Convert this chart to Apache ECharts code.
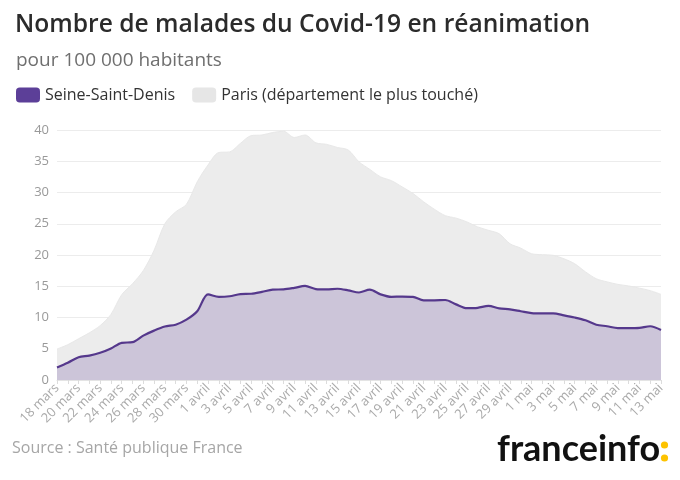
<!DOCTYPE html>
<html>
<head>
<meta charset="utf-8">
<script src="https://cdn.jsdelivr.net/npm/echarts@6/dist/echarts.min.js"></script>
<style>
html,body{margin:0;padding:0;background:#fff;}
#chart{width:680px;height:480px;}
</style>
</head>
<body>
<div id="chart"></div>
<script>
var categories = [
  "18 mars","19 mars","20 mars","21 mars","22 mars","23 mars","24 mars","25 mars","26 mars","27 mars","28 mars","29 mars","30 mars","31 mars",
  "1 avril","2 avril","3 avril","4 avril","5 avril","6 avril","7 avril","8 avril","9 avril","10 avril","11 avril","12 avril","13 avril","14 avril","15 avril","16 avril","17 avril","18 avril","19 avril","20 avril","21 avril","22 avril","23 avril","24 avril","25 avril","26 avril","27 avril","28 avril","29 avril","30 avril",
  "1 mai","2 mai","3 mai","4 mai","5 mai","6 mai","7 mai","8 mai","9 mai","10 mai","11 mai","12 mai","13 mai"
];
var seineSaintDenis = [
  2.0, 2.75, 3.65, 3.9, 4.35, 5.05, 5.95, 6.05, 7.1, 7.9, 8.55, 8.85, 9.65, 11.0,
  13.7, 13.3, 13.4, 13.75, 13.8, 14.1, 14.45, 14.5, 14.75, 15.05, 14.55, 14.5, 14.6, 14.35, 14.0, 14.45,
  13.7, 13.3, 13.35, 13.3, 12.75, 12.75, 12.8, 12.1, 11.5, 11.55, 11.85, 11.45, 11.3, 11.0,
  10.7, 10.65, 10.65, 10.35, 10.0, 9.55, 8.85, 8.6, 8.3, 8.3, 8.35, 8.6, 8.0
];
var paris = [
  4.95, 5.65, 6.6, 7.55, 8.7, 10.5, 13.65, 15.4, 17.5, 20.75, 25.0, 26.9, 28.1, 31.7,
  34.4, 36.4, 36.5, 37.85, 39.1, 39.2, 39.6, 39.8, 38.8, 39.2, 37.95, 37.7, 37.2, 36.8, 34.9, 33.7,
  32.5, 31.9, 30.9, 29.85, 28.5, 27.3, 26.3, 25.9, 25.3, 24.5, 23.95, 23.4, 21.8, 21.1,
  20.2, 20.05, 19.95, 19.4, 18.6, 17.3, 16.2, 15.7, 15.3, 15.05, 14.7, 14.3, 13.7
];
var yTicks = [0, 5, 10, 15, 20, 25, 30, 35, 40];

var FONT = '"Open Sans", "Noto Sans", sans-serif';
var chart = echarts.init(document.getElementById('chart'), null, {renderer: 'canvas'});
chart.setOption({
  backgroundColor: '#ffffff',
  animation: false,
  textStyle: {fontFamily: FONT},
  title: [
    {text: 'Nombre de malades du Covid-19 en réanimation', left: 10, top: 7,
     textStyle: {fontFamily: FONT, fontSize: 24.6, fontWeight: 600, color: '#2b2b2b'}},
    {text: 'pour 100 000 habitants', left: 11, top: 46,
     textStyle: {fontFamily: FONT, fontSize: 19, fontWeight: 'normal', color: '#6f6f6f'}}
  ],
  legend: {
    left: 11, top: 82,
    itemWidth: 24, itemHeight: 15, itemGap: 17,
    icon: 'roundRect',
    data: ['Seine-Saint-Denis', 'Paris (département le plus touché)'],
    textStyle: {fontFamily: FONT, fontSize: 16, color: '#333'}
  },
  grid: {left: 57, right: 19, top: 130, bottom: 100},
  xAxis: {
    type: 'category',
    data: categories,
    boundaryGap: false,
    axisLine: {show: true, lineStyle: {color: '#e4e4e4'}},
    axisTick: {show: true, interval: 0, length: 4, lineStyle: {color: '#dcdcdc'}},
    axisLabel: {interval: 1, rotate: 45, color: '#aaaaaa', fontSize: 13, fontFamily: FONT, margin: 6}
  },
  yAxis: {
    type: 'value',
    min: yTicks[0], max: yTicks[yTicks.length - 1], interval: 5,
    axisLine: {show: false},
    axisTick: {show: false},
    splitLine: {lineStyle: {color: '#ececec', width: 1}},
    axisLabel: {color: '#999', fontSize: 13, fontFamily: FONT, margin: 8}
  },
  series: [
    {
      name: 'Paris (département le plus touché)',
      type: 'line',
      data: paris,
      smooth: 0.3,
      symbol: 'none',
      z: 1,
      itemStyle: {color: '#e6e6e6'},
      lineStyle: {color: '#e8e8e8', width: 1},
      areaStyle: {color: '#ececec', opacity: 1}
    },
    {
      name: 'Seine-Saint-Denis',
      type: 'line',
      data: seineSaintDenis,
      smooth: 0.3,
      symbol: 'none',
      z: 2,
      itemStyle: {color: '#5c3f98'},
      lineStyle: {color: '#55388c', width: 2.2},
      areaStyle: {color: '#ccc5d9', opacity: 1}
    }
  ],
  graphic: [
    {type: 'text', left: 12, top: 440,
     style: {text: 'Source : Santé publique France', fill: '#a6a6a6', font: '16px ' + FONT}},
    {type: 'text', left: 497, top: 431,
     style: {text: 'franceinfo', fill: '#111', font: 'bold 36px Lato, ' + FONT}},
    {type: 'circle', shape: {cx: 664.5, cy: 445, r: 3.6}, style: {fill: '#fdc300'}},
    {type: 'circle', shape: {cx: 664.5, cy: 458, r: 3.6}, style: {fill: '#fdc300'}}
  ]
});
</script>
</body>
</html>
